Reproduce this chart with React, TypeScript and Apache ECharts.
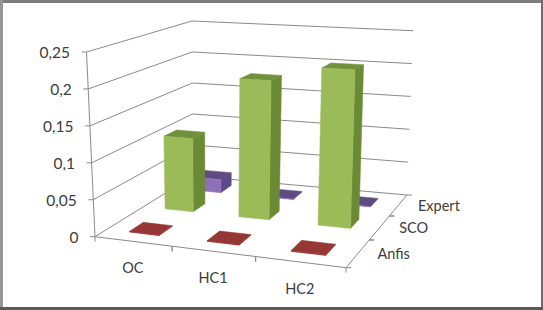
import React, { useEffect, useRef } from "react";
import * as echarts from "echarts";

const W = 543;
const H = 310;

const categories = ["OC", "HC1", "HC2"];
const depthNames = ["Anfis", "SCO", "Expert"];
const anfisValues = [0.001, 0.001, 0.001];
const scoValues = [0.106, 0.197, 0.219];
const expertValues = [0.02, 0.0008, 0.0008];
const valueTicks = [0, 0.05, 0.1, 0.15, 0.2, 0.25];
const valueTickLabels = ["0", "0,05", "0,1", "0,15", "0,2", "0,25"];

type P = [number, number];
// corners: front-left, front-right, back-right, back-left
const FLOOR: P[] = [[95, 236.7], [346, 267.7], [407, 195], [193, 176]];
const CEIL: P[] = [[86.5, 52], [351, 67], [413, 30.7], [192, 21]];

function homography(q: P[]) {
  const [[x0, y0], [x1, y1], [x2, y2], [x3, y3]] = q;
  const dx1 = x1 - x2, dx2 = x3 - x2, sx = x0 - x1 + x2 - x3;
  const dy1 = y1 - y2, dy2 = y3 - y2, sy = y0 - y1 + y2 - y3;
  const d = dx1 * dy2 - dx2 * dy1;
  const g = (sx * dy2 - dx2 * sy) / d;
  const h = (dx1 * sy - sx * dy1) / d;
  const a = x1 - x0 + g * x1, b = x3 - x0 + h * x3;
  const e = y1 - y0 + g * y1, f = y3 - y0 + h * y3;
  return (u: number, v: number): P => {
    const t = g * u + h * v + 1;
    return [(a * u + b * v + x0) / t, (e * u + f * v + y0) / t];
  };
}
const floorAt = homography(FLOOR);
const ceilAt = homography(CEIL);
// u: along categories, v: depth, w: share of the value axis
function project(u: number, v: number, w: number): P {
  const a = floorAt(u, v);
  const b = ceilAt(u, v);
  return [a[0] + (b[0] - a[0]) * w, a[1] + (b[1] - a[1]) * w];
}

const BAR_U = 0.13;
const BAR_V = 0.13;
const AXIS_COLOR = "#8a8a8a";
const TEXT_COLOR = "#3c3c3c";
const FONT = "Lato";

const line = (a: P, b: P) => ({
  type: "line",
  shape: { x1: a[0], y1: a[1], x2: b[0], y2: b[1] },
  style: { stroke: AXIS_COLOR, lineWidth: 1, fill: "none" },
  silent: true,
});
const label = (text: string, x: number, y: number, align: string, size: number) => ({
  type: "text",
  style: { text, x, y, align, verticalAlign: "middle", fill: TEXT_COLOR, font: `${size}px ${FONT}` },
  silent: true,
});
const face = (pts: P[], fill: string) => ({
  type: "polygon",
  shape: { points: pts },
  style: { fill, stroke: fill, lineWidth: 0.5 },
  silent: true,
});

const shares = (api: any) => {
  const p = api.coord([api.value(0), api.value(1)]);
  return { u: p[0] / W, w: 1 - p[1] / H };
};

const barSeries = (
  name: string,
  depth: number,
  values: number[],
  front: string,
  side: string,
  top: string,
) => ({
  type: "custom",
  name,
  coordinateSystem: "cartesian2d",
  data: values.map((value, i) => [i, value]),
  clip: false,
  renderItem: (_: any, api: any) => {
    const { u, w } = shares(api);
    const u0 = u - BAR_U / 2, u1 = u + BAR_U / 2;
    const v0 = depth - BAR_V / 2, v1 = depth + BAR_V / 2;
    return {
      type: "group",
      children: [
        face([project(u1, v0, 0), project(u1, v1, 0), project(u1, v1, w), project(u1, v0, w)], side),
        face([project(u0, v0, w), project(u1, v0, w), project(u1, v1, w), project(u0, v1, w)], top),
        face([project(u0, v0, 0), project(u1, v0, 0), project(u1, v0, w), project(u0, v0, w)], front),
      ],
    };
  },
});

const frameRect = (x: number, y: number, width: number, height: number, fill: string) => ({
  type: "rect",
  shape: { x, y, width, height },
  style: { fill },
  silent: true,
});

export default function App() {
  const ref = useRef<HTMLDivElement>(null);
  useEffect(() => {
    document.body.style.margin = "0";
    const chart = echarts.init(ref.current!, undefined, { renderer: "svg" });
    chart.setOption({
      animation: false,
      backgroundColor: "#ffffff",
      grid: { left: 0, right: 0, top: 0, bottom: 0 },
      xAxis: { type: "category", data: categories, show: false },
      yAxis: { type: "value", min: 0, max: 0.25, interval: 0.05, show: false },
      graphic: [
        frameRect(0, 0, 543, 3, "#7d7d7d"),
        frameRect(0, 0, 3, 310, "#969696"),
        frameRect(541, 0, 2, 310, "#6e6e6e"),
        frameRect(0, 307, 543, 3, "#5a5a5a"),
      ],
      series: [
        {
          type: "custom",
          name: "Walls",
          coordinateSystem: "cartesian2d",
          clip: false,
          data: valueTicks.map((t, i) => [0, t, i]),
          renderItem: (_: any, api: any) => {
            const w = shares(api).w;
            const a = project(0, 0, w);
            return {
              type: "group",
              children: [
                line(a, project(0, 1, w)),
                line(project(0, 1, w), project(1, 1, w)),
                line(a, [a[0] - 5, a[1]]),
                label(valueTickLabels[api.value(2)], a[0] - 16.5, a[1], "right", 15.5),
              ],
            };
          },
        },
        {
          type: "custom",
          name: "Axes",
          coordinateSystem: "cartesian2d",
          clip: false,
          data: categories.map((_, i) => [i, 0]),
          renderItem: (_: any, api: any) => {
            const i = api.value(0);
            const u = shares(api).u;
            const start = project(i / 3, 0, 0);
            const end = project((i + 1) / 3, 0, 0);
            const mid = project(u, 0, 0);
            const dStart = project(1, i / 3, 0);
            const dEnd = project(1, (i + 1) / 3, 0);
            const dMid = project(1, (i + 0.5) / 3, 0);
            return {
              type: "group",
              children: [
                line(start, end),
                line(start, [start[0], start[1] + 5]),
                line(end, [end[0], end[1] + 5]),
                label(categories[i], mid[0], mid[1] + 26, "center", 14.5),
                line(dStart, dEnd),
                line(dStart, [dStart[0] + 5, dStart[1]]),
                line(dEnd, [dEnd[0] + 5, dEnd[1]]),
                label(depthNames[i], dMid[0] + 19.5, dMid[1], "left", 14.5),
              ],
            };
          },
        },
        {
          type: "custom",
          name: "ValueAxis",
          coordinateSystem: "cartesian2d",
          clip: false,
          data: [[0, 0, 0.25]],
          renderItem: (_: any, api: any) => {
            const lo = api.coord([0, api.value(1)]);
            const hi = api.coord([0, api.value(2)]);
            return line(project(0, 0, 1 - lo[1] / H), project(0, 0, 1 - hi[1] / H));
          },
        },
        barSeries(depthNames[2], 5 / 6, expertValues, "#8e6fb8", "#5d4a86", "#5f4a82"),
        barSeries(depthNames[1], 0.515, scoValues, "#9bbb59", "#6b8a36", "#70903b"),
        barSeries(depthNames[0], 1 / 6, anfisValues, "#953735", "#8a3230", "#953735"),
      ],
    });
    return () => chart.dispose();
  }, []);
  return <div ref={ref} style={{ width: W, height: H }} />;
}
